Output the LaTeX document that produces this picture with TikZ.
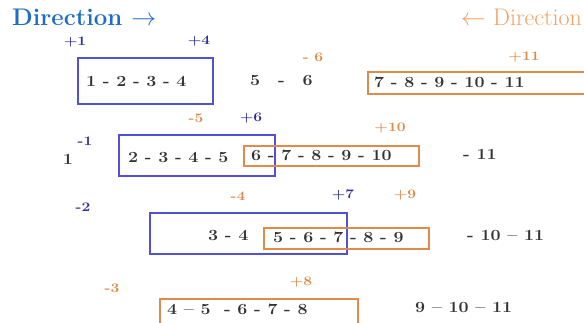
\documentclass[tikz,border=0pt]{standalone}
\usepackage{amsmath,amssymb}
\usepackage{xcolor}
\definecolor{fwdblue}{HTML}{1F6EC4}
\definecolor{boxblue}{HTML}{5050D8}
\definecolor{lblblue}{HTML}{2E2E96}
\definecolor{bwdorange}{HTML}{F2A263}
\definecolor{boxorange}{HTML}{E08A4C}
\definecolor{lblorange}{HTML}{DC8A48}
\newcommand{\wide}[1]{\scalebox{1.15}[1]{#1}}
\newcommand{\wlbl}[1]{\scalebox{1.2}[1]{#1}}

\begin{document}
\begin{tikzpicture}[x=1pt, y=-1pt,
  every node/.style={inner sep=0pt},
  num/.style={font=\fontsize{15.5}{18}\selectfont\bfseries, text=black!80, anchor=west},
  lblb/.style={font=\fontsize{13}{15}\selectfont\bfseries, text=lblblue},
  lblo/.style={font=\fontsize{13}{15}\selectfont\bfseries, text=lblorange},
  bluebox/.style={draw=boxblue, line width=1.8pt, anchor=north west},
  orangebox/.style={draw=boxorange, line width=1.7pt, anchor=north west}]
  \useasboundingbox (0,0) rectangle (584,322);

  % headings
  \node[font=\fontsize{24}{28}\selectfont\bfseries, text=fwdblue, anchor=west] (fwd) at (12,17) {Direction $\rightarrow$};
  \node[font=\fontsize{24}{28}\selectfont, text=bwdorange, anchor=east] (bwd) at (582,17) {$\leftarrow$ Direction};

  % windows
  \node[bluebox, minimum width=135, minimum height=46] (w1) at (77,57) {};
  \node[orangebox, minimum width=233, minimum height=22] (v1) at (367,71) {};
  \node[bluebox, minimum width=156, minimum height=41] (w2) at (118,134) {};
  \node[orangebox, minimum width=175, minimum height=20] (v2) at (243,145) {};
  \node[bluebox, minimum width=197, minimum height=41] (w3) at (149,212) {};
  \node[orangebox, minimum width=165, minimum height=21] (v3) at (263,227) {};
  \node[orangebox, minimum width=198, minimum height=37] (v4) at (159,298) {};

  % row 1
  \node[lblb] (p1) at (75,42) {\wlbl{+1}};
  \node[lblb] (p4) at (199,41) {\wlbl{+4}};
  \node[lblo] (m6) at (313,57) {\wlbl{- 6}};
  \node[lblo] (p11) at (524,57) {\wlbl{+11}};
  \node[num] (r1a) at (86,81) {\wide{1 - 2 - 3 - 4}};
  \node[num] (r1b) at (250,81) {\wide{5\quad-\quad6}};
  \node[num] (r1c) at (374,82) {\wide{7 - 8 - 9 - 10 - 11}};

  % row 2
  \node[lblo] (m5) at (196,118) {\wlbl{-5}};
  \node[lblb] (p6) at (251,118) {\wlbl{+6}};
  \node[lblb] (m1) at (85,141) {\wlbl{-1}};
  \node[lblo] (p10) at (390,128) {\wlbl{+10}};
  \node[num, anchor=center] (r2a) at (68,159) {\wide{1}};
  \node[num] (r2b) at (128,157) {\wide{2 - 3 - 4 - 5}};
  \node[num] (r2c) at (251,155) {\wide{6 - 7 - 8 - 9 - 10}};
  \node[num] (r2d) at (463,154) {\wide{- 11}};

  % row 3
  \node[lblo] (m4) at (238,196) {\wlbl{-4}};
  \node[lblb] (p7) at (343,195) {\wlbl{+7}};
  \node[lblo] (p9) at (405,195) {\wlbl{+9}};
  \node[lblb] (m2) at (83,207) {\wlbl{-2}};
  \node[num] (r3a) at (208,235) {\wide{3 - 4}};
  \node[num] (r3b) at (273,237) {\wide{5 - 6 - 7 - 8 - 9}};
  \node[num] (r3c) at (467,236) {\wide{- 10 -- 11}};

  % row 4
  \node[lblo] (m3) at (112,288) {\wlbl{-3}};
  \node[lblo] (p8) at (301,282) {\wlbl{+8}};
  \node[num] (r4a) at (167,309) {\wide{4 -- 5 \ - 6 - 7 - 8}};
  \node[num] (r4b) at (415,308) {\wide{9 -- 10 -- 11}};
\end{tikzpicture}
\end{document}
